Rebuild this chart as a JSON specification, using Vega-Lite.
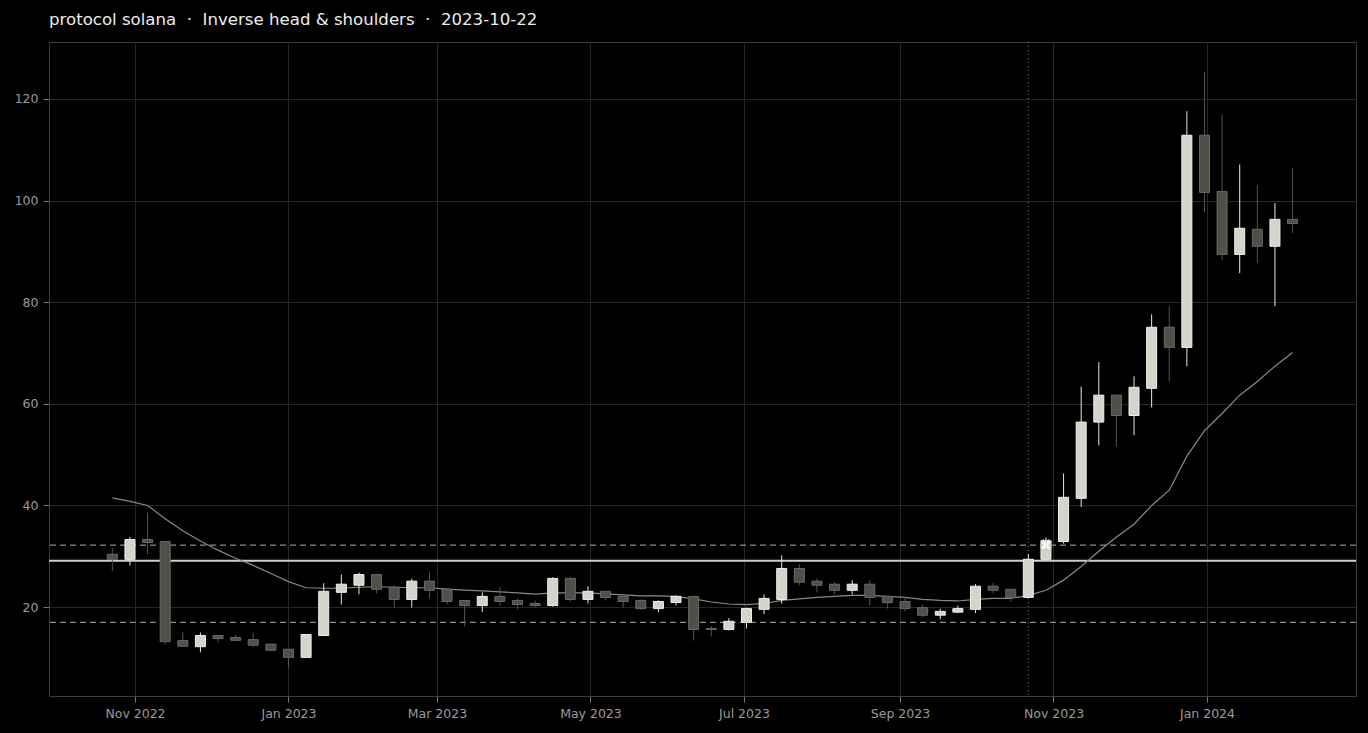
{
  "$schema": "https://vega.github.io/schema/vega-lite/v6.json",
  "autosize": "none",
  "width": 1307,
  "height": 654,
  "padding": {"left": 49, "top": 42, "right": 12, "bottom": 37},
  "background": "#000000",
  "title": {
    "text": "protocol solana \u00a0·\u00a0 Inverse head & shoulders \u00a0·\u00a0 2023-10-22",
    "anchor": "start",
    "frame": "group",
    "baseline": "bottom",
    "offset": 12,
    "dy": 15,
    "font": "DejaVu Sans",
    "fontSize": 16.6,
    "fontWeight": "normal",
    "color": "#ececec"
  },
  "config": {
    "view": {"stroke": "#3c3c3c", "strokeWidth": 1, "fill": "#000000"},
    "axis": {
      "labelFont": "DejaVu Sans",
      "labelFontSize": 12.5,
      "labelColor": "#9a9a9a",
      "tickColor": "#777777",
      "tickSize": 6,
      "labelPadding": 5,
      "gridColor": "#262626",
      "gridWidth": 1,
      "domain": false,
      "title": null,
      "zindex": 1
    }
  },
  "datasets": {
    "candles": [
      {"date": "2022-10-23", "open": 30.4, "high": 31.6, "low": 27.1, "close": 29.4, "ma": 41.5},
      {"date": "2022-10-30", "open": 29.4, "high": 33.8, "low": 28.2, "close": 33.3, "ma": 40.8},
      {"date": "2022-11-06", "open": 33.3, "high": 38.6, "low": 30.4, "close": 32.7, "ma": 40.0},
      {"date": "2022-11-13", "open": 32.9, "high": 32.9, "low": 12.7, "close": 13.2, "ma": 37.4},
      {"date": "2022-11-20", "open": 13.4, "high": 15.0, "low": 12.2, "close": 12.3, "ma": 35.0},
      {"date": "2022-11-27", "open": 12.2, "high": 15.0, "low": 11.1, "close": 14.4, "ma": 33.0},
      {"date": "2022-12-04", "open": 14.4, "high": 14.5, "low": 12.9, "close": 13.8, "ma": 31.2},
      {"date": "2022-12-11", "open": 14.0, "high": 14.5, "low": 13.3, "close": 13.45, "ma": 29.6},
      {"date": "2022-12-18", "open": 13.6, "high": 15.0, "low": 12.1, "close": 12.5, "ma": 28.2},
      {"date": "2022-12-25", "open": 12.7, "high": 12.7, "low": 11.3, "close": 11.5, "ma": 26.6},
      {"date": "2023-01-01", "open": 11.7, "high": 11.7, "low": 8.1, "close": 10.1, "ma": 25.0},
      {"date": "2023-01-08", "open": 10.1, "high": 14.7, "low": 10.0, "close": 14.6, "ma": 23.8},
      {"date": "2023-01-15", "open": 14.4, "high": 24.7, "low": 14.3, "close": 23.1, "ma": 23.7},
      {"date": "2023-01-22", "open": 22.9, "high": 26.4, "low": 20.5, "close": 24.5, "ma": 23.7},
      {"date": "2023-01-29", "open": 24.3, "high": 26.8, "low": 22.5, "close": 26.4, "ma": 23.9},
      {"date": "2023-02-05", "open": 26.4, "high": 26.4, "low": 22.7, "close": 23.5, "ma": 24.0},
      {"date": "2023-02-12", "open": 23.9, "high": 24.3, "low": 19.9, "close": 21.5, "ma": 23.9},
      {"date": "2023-02-19", "open": 21.5, "high": 25.6, "low": 19.9, "close": 25.1, "ma": 23.8},
      {"date": "2023-02-26", "open": 25.1, "high": 27.0, "low": 21.7, "close": 23.3, "ma": 23.8},
      {"date": "2023-03-05", "open": 23.5, "high": 23.5, "low": 20.5, "close": 21.1, "ma": 23.55},
      {"date": "2023-03-12", "open": 21.3, "high": 21.3, "low": 16.2, "close": 20.3, "ma": 23.35},
      {"date": "2023-03-19", "open": 20.3, "high": 22.9, "low": 19.0, "close": 22.1, "ma": 23.2},
      {"date": "2023-03-26", "open": 22.1, "high": 23.9, "low": 20.3, "close": 21.1, "ma": 23.0},
      {"date": "2023-04-02", "open": 21.3, "high": 21.7, "low": 19.55, "close": 20.5, "ma": 22.8},
      {"date": "2023-04-09", "open": 20.7, "high": 21.3, "low": 19.9, "close": 20.3, "ma": 22.55},
      {"date": "2023-04-16", "open": 20.3, "high": 25.85, "low": 20.1, "close": 25.65, "ma": 22.8},
      {"date": "2023-04-23", "open": 25.65, "high": 26.0, "low": 21.1, "close": 21.5, "ma": 22.8},
      {"date": "2023-04-30", "open": 21.5, "high": 24.1, "low": 20.7, "close": 23.1, "ma": 22.8},
      {"date": "2023-05-07", "open": 23.1, "high": 23.1, "low": 21.3, "close": 21.9, "ma": 22.6},
      {"date": "2023-05-14", "open": 22.1, "high": 22.1, "low": 19.9, "close": 21.1, "ma": 22.4},
      {"date": "2023-05-21", "open": 21.3, "high": 21.5, "low": 19.5, "close": 19.7, "ma": 22.2},
      {"date": "2023-05-28", "open": 19.7, "high": 21.3, "low": 19.0, "close": 21.1, "ma": 22.2},
      {"date": "2023-06-04", "open": 20.9, "high": 22.3, "low": 20.3, "close": 22.1, "ma": 22.1},
      {"date": "2023-06-11", "open": 22.1, "high": 22.1, "low": 13.4, "close": 15.6, "ma": 21.6},
      {"date": "2023-06-18", "open": 15.8, "high": 16.2, "low": 14.2, "close": 15.6, "ma": 21.0},
      {"date": "2023-06-25", "open": 15.6, "high": 17.8, "low": 15.4, "close": 17.2, "ma": 20.6},
      {"date": "2023-07-02", "open": 17.0, "high": 19.9, "low": 15.8, "close": 19.7, "ma": 20.5},
      {"date": "2023-07-09", "open": 19.55, "high": 22.5, "low": 18.6, "close": 21.7, "ma": 20.7},
      {"date": "2023-07-16", "open": 21.5, "high": 30.2, "low": 20.7, "close": 27.6, "ma": 21.3},
      {"date": "2023-07-23", "open": 27.6, "high": 28.4, "low": 24.3, "close": 24.9, "ma": 21.6},
      {"date": "2023-07-30", "open": 25.1, "high": 25.65, "low": 22.9, "close": 24.3, "ma": 21.9},
      {"date": "2023-08-06", "open": 24.5, "high": 24.9, "low": 22.5, "close": 23.3, "ma": 22.1},
      {"date": "2023-08-13", "open": 23.3, "high": 25.3, "low": 22.5, "close": 24.5, "ma": 22.3},
      {"date": "2023-08-20", "open": 24.5, "high": 25.3, "low": 20.3, "close": 21.9, "ma": 22.3},
      {"date": "2023-08-27", "open": 22.1, "high": 22.1, "low": 19.7, "close": 20.9, "ma": 22.1},
      {"date": "2023-09-03", "open": 21.1, "high": 22.1, "low": 19.15, "close": 19.7, "ma": 21.9},
      {"date": "2023-09-10", "open": 19.9, "high": 20.5, "low": 18.0, "close": 18.4, "ma": 21.5},
      {"date": "2023-09-17", "open": 18.4, "high": 19.7, "low": 17.6, "close": 19.15, "ma": 21.3},
      {"date": "2023-09-24", "open": 19.0, "high": 20.3, "low": 18.8, "close": 19.7, "ma": 21.2},
      {"date": "2023-10-01", "open": 19.55, "high": 24.5, "low": 18.8, "close": 24.1, "ma": 21.5},
      {"date": "2023-10-08", "open": 24.1, "high": 24.7, "low": 22.7, "close": 23.3, "ma": 21.7},
      {"date": "2023-10-15", "open": 23.5, "high": 23.5, "low": 21.1, "close": 21.9, "ma": 21.7},
      {"date": "2023-10-22", "open": 21.9, "high": 30.4, "low": 21.9, "close": 29.4, "ma": 22.3},
      {"date": "2023-10-29", "open": 29.4, "high": 33.7, "low": 29.25, "close": 33.1, "ma": 23.3},
      {"date": "2023-11-05", "open": 32.9, "high": 46.3, "low": 32.5, "close": 41.6, "ma": 25.3},
      {"date": "2023-11-12", "open": 41.4, "high": 63.4, "low": 39.7, "close": 56.4, "ma": 28.0},
      {"date": "2023-11-19", "open": 56.4, "high": 68.2, "low": 51.8, "close": 61.7, "ma": 31.0},
      {"date": "2023-11-26", "open": 61.7, "high": 61.7, "low": 51.6, "close": 57.7, "ma": 33.8},
      {"date": "2023-12-03", "open": 57.7, "high": 65.4, "low": 53.8, "close": 63.25, "ma": 36.3},
      {"date": "2023-12-10", "open": 63.05, "high": 77.6, "low": 59.3, "close": 75.06, "ma": 40.0},
      {"date": "2023-12-17", "open": 75.06, "high": 79.2, "low": 64.4, "close": 71.1, "ma": 43.0},
      {"date": "2023-12-24", "open": 71.1, "high": 117.6, "low": 67.4, "close": 112.85, "ma": 49.7},
      {"date": "2023-12-31", "open": 112.85, "high": 125.3, "low": 97.7, "close": 101.6, "ma": 54.7},
      {"date": "2024-01-07", "open": 101.8, "high": 117.0, "low": 88.25, "close": 89.4, "ma": 58.1},
      {"date": "2024-01-14", "open": 89.4, "high": 107.1, "low": 85.7, "close": 94.55, "ma": 61.7},
      {"date": "2024-01-21", "open": 94.35, "high": 103.0, "low": 87.7, "close": 91.0, "ma": 64.4},
      {"date": "2024-01-28", "open": 91.0, "high": 99.5, "low": 79.2, "close": 96.3, "ma": 67.4},
      {"date": "2024-02-04", "open": 96.3, "high": 106.4, "low": 93.6, "close": 95.5, "ma": 70.1}
    ],
    "levels": [
      {"name": "upper", "value": 32.2},
      {"name": "neckline", "value": 29.1},
      {"name": "lower", "value": 17.0}
    ],
    "events": [
      {"name": "pattern", "date": "2023-10-22"}
    ],
    "breakout": [
      {"date": "2023-10-29", "value": 32.2}
    ]
  },
  "encoding": {
    "x": {
      "field": "date",
      "type": "temporal",
      "scale": {
        "type": "utc",
        "padding": 0,
        "domain": [
          {"year": 2022, "month": 9, "date": 27, "hours": 20, "utc": true},
          {"year": 2024, "month": 2, "date": 29, "hours": 5, "utc": true}
        ]
      },
      "axis": {
        "format": "%b %Y",
        "tickCount": {"interval": "month", "step": 2},
        "grid": true,
        "labelFlush": false
      }
    }
  },
  "layer": [
    {
      "data": {"name": "levels"},
      "transform": [{"filter": "datum.name !== 'neckline'"}],
      "mark": {"type": "rule", "color": "#8c8c8c", "strokeWidth": 1.3, "strokeDash": [6, 4]},
      "encoding": {
        "x": null,
        "y": {
          "field": "value",
          "type": "quantitative",
          "scale": {"domain": [2.5, 131.2], "nice": false, "zero": false},
          "axis": {"values": [20, 40, 60, 80, 100, 120], "grid": true}
        }
      }
    },
    {
      "data": {"name": "levels"},
      "transform": [{"filter": "datum.name === 'neckline'"}],
      "mark": {"type": "rule", "color": "#cfcfcf", "strokeWidth": 2},
      "encoding": {
        "x": null,
        "y": {"field": "value", "type": "quantitative"}
      }
    },
    {
      "data": {"name": "events"},
      "mark": {"type": "rule", "color": "#8a8a8a", "strokeWidth": 1, "strokeDash": [1, 3]},
      "encoding": {}
    },
    {
      "data": {"name": "candles"},
      "mark": {"type": "line", "color": "#8a8a85", "strokeWidth": 1.2},
      "encoding": {
        "y": {"field": "ma", "type": "quantitative"}
      }
    },
    {
      "data": {"name": "candles"},
      "mark": {"type": "rule", "strokeWidth": 1},
      "encoding": {
        "y": {"field": "low", "type": "quantitative"},
        "y2": {"field": "high"},
        "color": {
          "condition": {"test": "datum.close >= datum.open", "value": "#e6e6e0"},
          "value": "#55554f"
        }
      }
    },
    {
      "data": {"name": "candles"},
      "mark": {"type": "bar", "width": 10, "strokeWidth": 1},
      "encoding": {
        "y": {"field": "open", "type": "quantitative"},
        "y2": {"field": "close"},
        "fill": {
          "condition": {"test": "datum.close >= datum.open", "value": "#d4d4cd"},
          "value": "#50504b"
        },
        "stroke": {
          "condition": {"test": "datum.close >= datum.open", "value": "#f0f0ea"},
          "value": "#6a6a64"
        }
      }
    },
    {
      "data": {"name": "breakout"},
      "mark": {"type": "point", "shape": "cross", "angle": 45, "size": 140, "filled": true, "fill": "#f2f2ee", "stroke": "#9a9a95", "strokeWidth": 0.6, "opacity": 1},
      "encoding": {
        "y": {"field": "value", "type": "quantitative"}
      }
    }
  ]
}
